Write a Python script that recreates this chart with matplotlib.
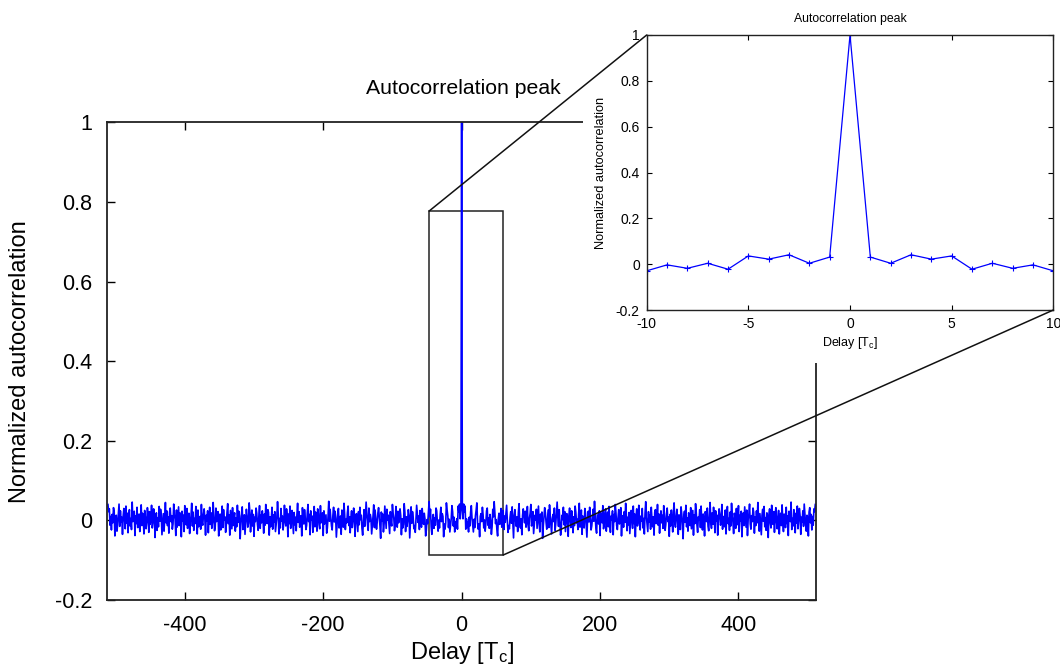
import numpy as np
import matplotlib
matplotlib.use('Agg')
import matplotlib.pyplot as plt
from matplotlib.patches import Rectangle, ConnectionPatch

plt.rcParams['font.family'] = ['Liberation Sans', 'DejaVu Sans']
plt.rcParams['mathtext.fontset'] = 'custom'
plt.rcParams['mathtext.rm'] = 'Liberation Sans'
plt.rcParams['mathtext.it'] = 'Liberation Sans:italic'

# ---- data ----
peak_value = 1.0
# autocorrelation for lags 1..10; symmetric in lag
near_vals = [0.031, 0.004, 0.041, 0.022, 0.036, -0.022, 0.004, -0.018, -0.003, -0.029]
# autocorrelation for lags 11..511, in units of 0.001 (estimated from the main plot)
far_vals_milli = [
    8, -14, 21, 37, 5, -11, -29, 3, -18, 12, 26, 44, -6, -22, -9, -41, 10, 17, -3, 33, 14, -19, 1, -27, -7,
    24, 31, -12, 6, -20, 15, -2, -35, -16, 28, 9, 47, 19, -8, 2, -24, -39, 4, 18, -10, 7, 30, -17, -4, 25,
    -23, 11, -5, 16, 38, 1, -30, -13, -21, 8, 22, -7, 34, -3, -44, 13, 27, 0, -15, 9, -28, 20, 42, -10, -19,
    4, -36, 12, 29, 15, -6, 23, -17, -2, 35, -12, -26, 6, 18, 40, -14, -4, 22, -33, -9, 13, 1, 28, -20, 10,
    36, -8, -29, 16, -1, 21, -45, -14, 8, 32, 19, -5, -22, 3, 26, -18, 39, 11, -12, -34, 5, 15, -3, 31, -25,
    -9, 18, 46, 7, -15, 27, -5, -37, -20, 13, 2, 33, -11, 22, -28, -4, 17, 8, -40, 12, 31, -1, -18, 24, 5,
    -31, 9, -13, 36, 20, -6, 3, -23, 15, 43, -17, -8, 26, -35, 11, 1, -19, 30, 18, -10, -42, 6, 23, -4, 33,
    13, -24, -14, 5, 28, -2, 48, 10, -19, -32, 14, 3, -9, 24, -38, 19, 8, -6, 37, -21, -11, 17, 29, -27, 0,
    21, -16, 35, -7, -30, 11, 2, 24, -36, 15, -3, 40, 19, -13, -23, 7, 27, -9, -1, 32, -39, 12, 4, -17, 22,
    -5, 43, 14, -26, 8, -11, 20, -33, -3, 25, 6, -20, 36, -8, 16, -41, 10, 29, -14, 2, 38, -6, -24, 11, -1,
    30, -19, 5, -34, 17, 47, 8, -10, -28, 22, -4, 14, -22, 33, 3, -16, 9, -37, 20, 27, -8, -2, 40, -12, 16,
    -32, 4, 24, -6, 13, -20, 37, 10, -25, -10, 18, 31, -3, 8, -40, 15, -14, 26, 1, -29, 21, 44, -7, -17, 10,
    28, -1, -35, 14, 5, -23, 34, 17, -9, -46, 11, 23, -5, 38, -16, 6, -27, 19, 8, -13, 32, -21, 3, 25, -37,
    14, -8, 42, 20, -11, -30, 9, 1, 27, -18, 36, -6, -24, 16, 5, -39, 22, 12, -3, 31, -15, -26, 10, 45, -4,
    -20, 19, -10, 33, 7, -31, 24, -2, 13, -37, 3, 29, 16, -12, -6, 40, -22, 10, 1, -16, 26, -34, 15, 35, -8,
    5, -25, 21, -14, 43, 11, -4, -33, 18, 8, -20, 30, -11, 2, 37, -28, 13, -1, 23, -41, 6, 19, -13, 34, 9,
    -17, 26, -38, 3, 15, 41, -9, -22, 12, -3, 31, 20, -32, 9, -13, 24, -6, 45, 4, -27, 17, -8, -36, 13, 28,
    -2, 35, -16, 7, -25, 19, 10, -43, 15, 29, -6, -19, 38, 1, -10, 22, -30, 12, 32, -5, -21, 8, 25, -34, 3,
    18, -13, 39, -1, -28, 16, 6, -18, 33, -8, 11, -38, 23, 14, -3, 46, -23, 5, -14, 27, 9, -31, 18, -7, 36,
    -21, 2, 30, 12, -35, 8, -4, 24, -15, 41, 17, -10, -27, 13, 4, -39, 21, 32, -6, 15, -24, 10, -12, 29, 22,
    40,
]
max_lag = 511
main_xticks = [-400, -200, 0, 200, 400]
inset_xticks = [-10, -5, 0, 5, 10]
yticks = [-0.2, 0, 0.2, 0.4, 0.6, 0.8, 1]
ytick_labels = ['-0.2', '0', '0.2', '0.4', '0.6', '0.8', '1']
zoom_x = (-47, 60)
zoom_y = (-0.087, 0.777)
inset_range = 10

pos = np.concatenate([near_vals, np.array(far_vals_milli) / 1000.0])
values = np.concatenate([pos[::-1], [peak_value], pos])
lags = np.arange(-max_lag, max_lag + 1)

BLUE = '#0000ff'

fig = plt.figure(figsize=(10.6, 6.69), dpi=100)

# ---- main axes ----
ax = fig.add_axes([0.1012, 0.1031, 0.6686, 0.7141], zorder=0)
ax.plot(lags, values, color=BLUE, lw=1.2)
ax.set_xlim(-512, 512)
ax.set_ylim(-0.2, 1)
ax.set_xticks(main_xticks)
ax.set_xticklabels([str(t) for t in main_xticks])
ax.set_yticks(yticks)
ax.set_yticklabels(ytick_labels)
ax.tick_params(direction='in', top=True, right=True, length=6, width=1,
               labelsize=15.5, pad=11, colors='black')
for s in ax.spines.values():
    s.set_linewidth(1.3)
    s.set_color('#222222')
ax.set_xlabel('Delay [T$_\\mathrm{c}$]', fontsize=17, labelpad=3)
ax.set_ylabel('Normalized autocorrelation', fontsize=17, labelpad=17)
fig.text(463 / 1060, 1 - 89 / 669, 'Autocorrelation peak', fontsize=15.3,
         ha='center', va='center')
ax.add_patch(Rectangle((zoom_x[0], zoom_y[0]), zoom_x[1] - zoom_x[0],
                       zoom_y[1] - zoom_y[0], fill=False, ec='#222222', lw=1.1))

# white background behind the inset (covers the corner of the main frame)
bg = fig.add_axes([0.55, 0.458, 0.45, 0.542], zorder=1)
bg.set_facecolor('white')
bg.set_xticks([])
bg.set_yticks([])
for s in bg.spines.values():
    s.set_visible(False)

# ---- inset ----
axin = fig.add_axes([0.6101, 0.5366, 0.3836, 0.4111], zorder=2)
sel = np.abs(lags) <= inset_range
axin.plot(lags[sel], values[sel], color=BLUE, lw=0.9, marker='+', ms=4, mew=0.8)
axin.set_xlim(-inset_range, inset_range)
axin.set_ylim(-0.2, 1)
axin.set_xticks(inset_xticks)
axin.set_xticklabels([str(t) for t in inset_xticks])
axin.set_yticks(yticks)
axin.set_yticklabels(ytick_labels)
axin.tick_params(direction='in', top=True, right=True, length=3.5, width=0.8,
                 labelsize=10, pad=5, colors='black')
for s in axin.spines.values():
    s.set_linewidth(1.0)
    s.set_color('#222222')
axin.set_xlabel('Delay [T$_\\mathrm{c}$]', fontsize=9, labelpad=3)
axin.set_ylabel('Normalized autocorrelation', fontsize=9.2, labelpad=6)
axin.set_title('Autocorrelation peak', fontsize=8.8, pad=9)

# ---- connecting lines ----
for pa, pb in [((zoom_x[0], zoom_y[1]), (-inset_range, 1)),
               ((zoom_x[1], zoom_y[0]), (inset_range, -0.2))]:
    con = ConnectionPatch(xyA=pa, coordsA='data', axesA=ax,
                          xyB=pb, coordsB='data', axesB=axin,
                          color='#111111', lw=1.1, zorder=3)
    fig.add_artist(con)

fig.savefig('out.png', dpi=100)
